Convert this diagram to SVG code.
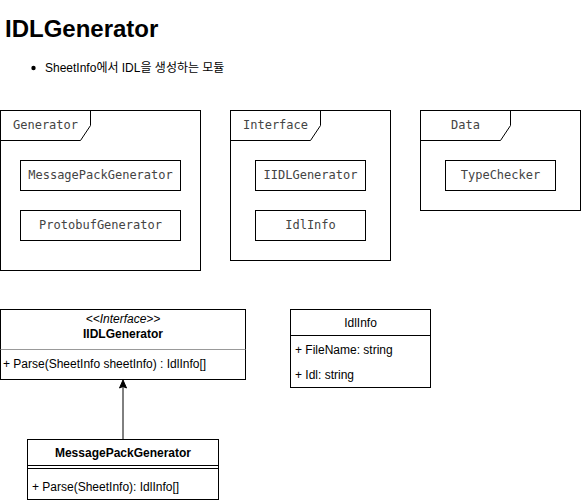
<svg xmlns="http://www.w3.org/2000/svg" width="581" height="502" viewBox="0 0 581 502">
<style>
.frame{fill:none;stroke:#000;stroke-width:1}
.box{fill:#fff;stroke:#000;stroke-width:1}
.mono{font-family:"DejaVu Sans Mono","Liberation Mono",monospace;font-size:12px;fill:#444;text-anchor:middle}
.sans{font-family:"Liberation Sans",Arial,sans-serif;font-size:12px;fill:#000}
.c{text-anchor:middle}
.b{font-weight:bold}
.sep{stroke:#000;stroke-width:1}
</style>
<g id="title">
<text x="5" y="37" font-family="'Liberation Sans',Arial,sans-serif" font-size="24" font-weight="bold" fill="#000">IDLGenerator</text>
<circle cx="33.5" cy="68" r="2.2" fill="#000"/>
<text x="45" y="72" font-family="'Liberation Sans','Noto Sans CJK KR',sans-serif" font-size="12" fill="#000">SheetInfo에서 IDL을 생성하는 모듈</text>
</g>
<g id="pkg-generator">
<rect class="frame" x="0.5" y="110.5" width="200" height="160"/>
<path class="frame" d="M0.5,140.5 H80.5 L90.5,125.5 V110.5"/>
<text class="mono" x="45.5" y="129">Generator</text>
<rect class="box" x="20.5" y="160.5" width="160" height="30"/>
<text class="mono" x="100.5" y="179">MessagePackGenerator</text>
<rect class="box" x="20.5" y="210.5" width="160" height="30"/>
<text class="mono" x="100.5" y="229">ProtobufGenerator</text>
</g>
<g id="pkg-interface">
<rect class="frame" x="230.5" y="110.5" width="160" height="150"/>
<path class="frame" d="M230.5,140.5 H310.5 L320.5,125.5 V110.5"/>
<text class="mono" x="275.5" y="129">Interface</text>
<rect class="box" x="255.5" y="160.5" width="110" height="30"/>
<text class="mono" x="310.5" y="179">IIDLGenerator</text>
<rect class="box" x="255.5" y="210.5" width="110" height="30"/>
<text class="mono" x="310.5" y="229">IdlInfo</text>
</g>
<g id="pkg-data">
<rect class="frame" x="420.5" y="110.5" width="160" height="100"/>
<path class="frame" d="M420.5,140.5 H500.5 L510.5,125.5 V110.5"/>
<text class="mono" x="465.5" y="129">Data</text>
<rect class="box" x="445.5" y="160.5" width="110" height="30"/>
<text class="mono" x="500.5" y="179">TypeChecker</text>
</g>
<g id="class-iidlgenerator">
<rect class="box" x="0.5" y="309.5" width="245" height="70"/>
<line x1="0.5" y1="349.5" x2="245.5" y2="349.5" stroke="#999" stroke-width="1"/>
<text class="sans c" x="123" y="323" font-style="italic" font-size="11">&lt;&lt;Interface&gt;&gt;</text>
<text class="sans c b" x="123" y="338">IIDLGenerator</text>
<text class="sans" x="3" y="368" font-size="11">+ Parse(SheetInfo sheetInfo) : IdlInfo[]</text>
</g>
<g id="class-idlinfo">
<rect class="box" x="290.5" y="309.5" width="140" height="78"/>
<line class="sep" x1="290.5" y1="335.5" x2="430.5" y2="335.5"/>
<text class="sans c" x="360.5" y="327">IdlInfo</text>
<text class="sans" x="295" y="353.5">+ FileName: string</text>
<text class="sans" x="295" y="378.5">+ Idl: string</text>
</g>
<g id="class-messagepackgenerator">
<rect class="box" x="27.5" y="439.5" width="191" height="60"/>
<line class="sep" x1="27.5" y1="465.5" x2="218.5" y2="465.5"/>
<line class="sep" x1="27.5" y1="468.5" x2="218.5" y2="468.5"/>
<text class="sans c b" x="123" y="457">MessagePackGenerator</text>
<text class="sans" x="32" y="491">+ Parse(SheetInfo): IdlInfo[]</text>
</g>
<g id="connectors">
<line x1="123" y1="439" x2="123" y2="386" stroke="#000" stroke-width="1"/>
<path d="M123,380 L126.5,388 L123,386.5 L119.5,388 Z" fill="#000" stroke="#000" stroke-width="1"/>
</g>
</svg>
